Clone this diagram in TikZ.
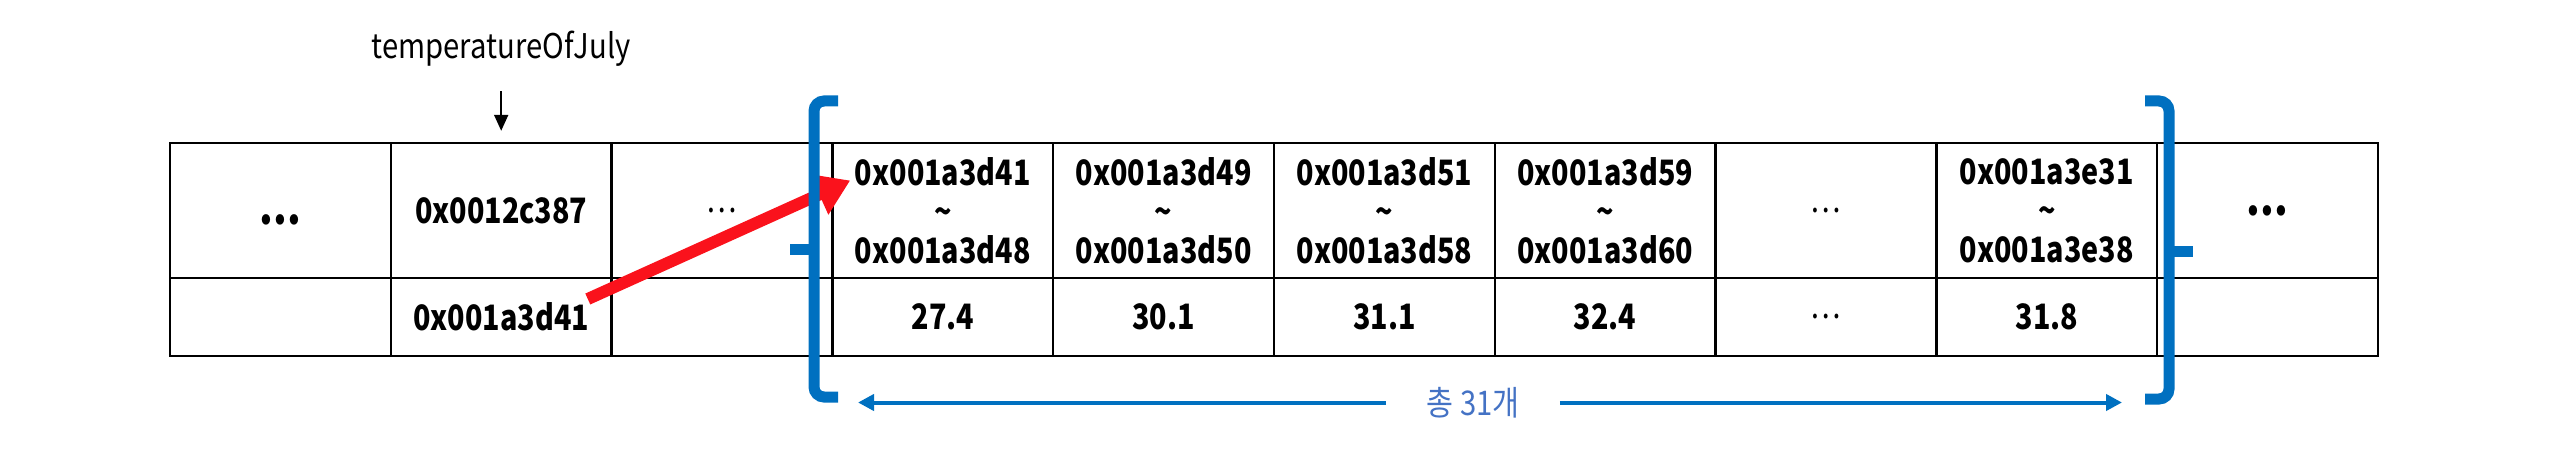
\documentclass[tikz,border=0pt]{standalone}
\usepackage{fontspec}
\setmainfont{Noto Sans CJK KR}[FakeStretch=0.86]
\newfontfamily\cellfont{Noto Sans CJK KR}[FakeStretch=0.82]
\usetikzlibrary{arrows.meta}
\usetikzlibrary{calc}

\definecolor{braceblue}{RGB}{0,112,192}
\definecolor{countblue}{RGB}{68,114,196}
\definecolor{pointred}{RGB}{250,18,28}

\newcommand{\heavydots}{{\fontsize{24}{24}\selectfont\bfseries ...}}
\newcommand{\lowdots}{\rule{0pt}{14pt}\heavydots}
\newcommand{\thindots}{{\mdseries\textellipsis}}

\tikzset{
  memcell/.style={draw, line width=1.2pt, inner sep=0pt, align=center,
    minimum width=110.4pt, font=\cellfont\bfseries\fontsize{17.5}{19.5}\selectfont},
  addrcell/.style={memcell, minimum height=67.5pt},
  valcell/.style={memcell, minimum height=39pt},
  varlabel/.style={inner sep=0pt, font=\fontsize{17}{17}\selectfont},
  countlabel/.style={inner xsep=20pt, inner ysep=0pt, text=countblue,
    font=\fontsize{17}{17}\selectfont},
  bluebrace/.style={draw=braceblue, line width=5.5pt},
  spanline/.style={draw=braceblue, line width=2pt, -{Triangle[length=8pt,width=8pt]}},
  pointer/.style={draw=pointred, line width=6pt, -{Triangle[length=17pt,width=21pt]}}
}

\begin{document}
\begin{tikzpicture}[x=0.5pt,y=-0.5pt]
\useasboundingbox (0,0) rectangle (2558,465);

% addresses row
\foreach \i/\txt in {1/\lowdots, 2/0x0012c387, 3/\thindots,
    4/{0x001a3d41\\\textasciitilde\\0x001a3d48},
    5/{0x001a3d49\\\textasciitilde\\0x001a3d50},
    6/{0x001a3d51\\\textasciitilde\\0x001a3d58},
    7/{0x001a3d59\\\textasciitilde\\0x001a3d60},
    8/\thindots,
    9/{0x001a3e31\\\textasciitilde\\0x001a3e38},
    10/\heavydots}
  \node[addrcell] (a\i) at ({170+220.8*(\i-0.5)}, 210.5) {\txt};

% values row
\foreach \i/\txt in {1/{}, 2/0x001a3d41, 3/{}, 4/27.4, 5/30.1, 6/31.1,
    7/32.4, 8/\thindots, 9/31.8, 10/{}}
  \node[valcell] (v\i) at ({170+220.8*(\i-0.5)}, 317) {\txt};

% variable name
\node[varlabel] (var) at ({170+220.8*1.5}, 49) {temperatureOfJuly};
\draw[-{Triangle[length=8pt,width=7pt]}, line width=1pt, shorten <=12pt, shorten >=5.5pt]
  (var.south) -- (a2.north);

% pointer
\coordinate (ptrtail) at ($(v2.east)+(-25,-18)$);
\coordinate (ptrhead) at ($(a4.west)+(19,-30)$);
\draw[pointer] (ptrtail) -- (ptrhead);

% braces
\draw[bluebrace, rounded corners=5pt] (838,101) -- (814,101) -- (814,397) -- (838,397);
\draw[bluebrace] (790,249) -- (814,249);
\draw[bluebrace, rounded corners=5pt] (2145,101) -- (2169,101) -- (2169,399) -- (2145,399);
\draw[bluebrace] (2169,251) -- (2193,251);

% count
\node[countlabel] (count) at (1473,402.5) {총 31개};
\coordinate (spanleft) at (858,402.5);
\coordinate (spanright) at (2122,402.5);
\draw[spanline] (count) -- (spanleft);
\draw[spanline] (count) -- (spanright);
\end{tikzpicture}
\end{document}
